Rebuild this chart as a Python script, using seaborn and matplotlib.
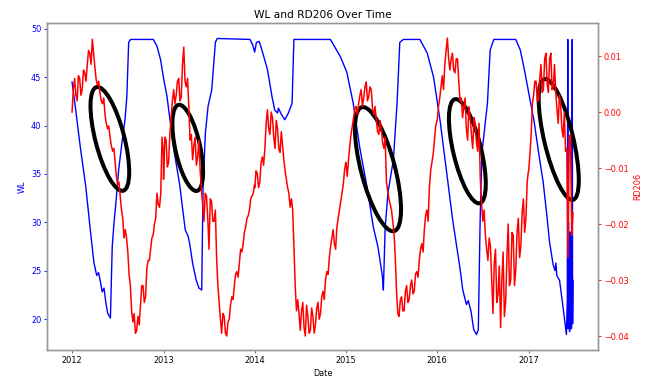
import numpy as np
import pandas as pd
import matplotlib
matplotlib.use('Agg')
import matplotlib.pyplot as plt
import matplotlib.dates as mdates
from matplotlib.patches import Ellipse
from matplotlib.transforms import ScaledTranslation
import seaborn as sns

# Water level at irregular times (decimal years)
wl_years = [
    2012.00, 2012.04, 2012.09, 2012.15, 2012.20, 2012.24, 2012.27, 2012.29, 2012.31, 2012.33,
    2012.35, 2012.37, 2012.39, 2012.42, 2012.44, 2012.46, 2012.48, 2012.51, 2012.55, 2012.58,
    2012.60, 2012.62, 2012.64, 2012.89, 2012.93, 2012.97,
    2013.00, 2013.04, 2013.08, 2013.11, 2013.15, 2013.18, 2013.21, 2013.24, 2013.27, 2013.29,
    2013.32, 2013.36, 2013.39, 2013.42, 2013.435, 2013.46, 2013.49, 2013.53, 2013.57, 2013.59,
    2013.95, 2013.98,
    2014.00, 2014.02, 2014.05, 2014.08, 2014.14, 2014.19, 2014.22, 2014.25, 2014.26, 2014.29,
    2014.33, 2014.37, 2014.41, 2014.43, 2014.83, 2014.94,
    2015.01, 2015.08, 2015.15, 2015.23, 2015.30, 2015.35, 2015.40, 2015.41, 2015.43, 2015.46,
    2015.52, 2015.56, 2015.59, 2015.63, 2015.81, 2015.89, 2015.96,
    2016.03, 2016.10, 2016.17, 2016.25, 2016.28, 2016.32, 2016.34, 2016.37, 2016.40, 2016.43,
    2016.45, 2016.47, 2016.49, 2016.55, 2016.58, 2016.62, 2016.86, 2016.91, 2016.95,
    2017.00, 2017.06, 2017.12, 2017.16, 2017.20, 2017.23, 2017.27, 2017.29, 2017.30, 2017.31,
    2017.34, 2017.38, 2017.415, 2017.425, 2017.430, 2017.434, 2017.438, 2017.442, 2017.446,
    2017.450, 2017.455, 2017.460, 2017.465, 2017.470, 2017.475, 2017.479, 2017.483, 2017.487,
]
wl_values = [
    44.5, 41.6, 37.8, 33.7, 29.2, 25.8, 24.5, 24.8, 23.9, 22.8,
    23.2, 21.7, 20.6, 20.1, 27.5, 30.0, 32.0, 35.4, 38.5, 40.6,
    43.0, 48.6, 48.9, 48.9, 48.2, 46.8,
    45.0, 43.0, 40.0, 37.8, 35.5, 33.8, 31.5, 29.2, 28.6, 27.7,
    25.8, 24.0, 23.2, 23.0, 33.7, 39.2, 42.0, 43.7, 48.6, 49.0,
    48.9, 48.3,
    47.6, 48.6, 48.7, 47.8, 45.8, 43.0, 41.6, 41.3, 41.8, 41.2,
    40.6, 41.3, 42.3, 48.9, 48.9, 47.1,
    45.5, 42.3, 37.8, 33.7, 29.5, 27.5, 24.4, 23.0, 29.5, 33.0,
    36.5, 42.3, 48.6, 48.9, 48.9, 47.5, 45.0,
    40.6, 35.4, 30.2, 25.2, 23.0, 21.5, 21.9, 20.8, 18.9, 18.4,
    18.9, 30.2, 37.2, 42.3, 47.8, 48.9, 48.9, 47.8, 46.0,
    43.5, 40.5, 36.6, 34.2, 30.8, 28.0, 25.6, 25.0, 25.8, 24.5,
    24.0, 21.1, 18.4, 22.0, 48.9, 19.0, 30.0, 19.5, 27.0,
    18.7, 29.0, 20.0, 26.0, 19.0, 30.0, 48.9, 19.5, 24.0,
]

# RD206, about every 10 days, one list per year
rd_2012 = [0.000, 0.006, 0.002, 0.006, 0.004, 0.007, 0.0085, 0.0105, 0.013, 0.008,
           0.0048, 0.0035, 0.0015, -0.0005, -0.003, -0.0045, -0.007, -0.009, -0.013, -0.015,
           -0.019, -0.021, -0.025, -0.031, -0.0375, -0.0395, -0.0365, -0.0345, -0.031, -0.033,
           -0.0265, -0.0245, -0.022, -0.019, -0.0165, -0.0145, -0.0075]
rd_2013 = [-0.012, -0.005, -0.009, -0.001, 0.004, 0.003, 0.006, 0.0027, 0.0116, 0.0045,
           0.001, -0.004, -0.006, -0.0095, -0.005, -0.014, -0.0195, -0.015, -0.0245, -0.016,
           -0.0195, -0.026, -0.034, -0.0395, -0.0365, -0.040, -0.037, -0.033, -0.031, -0.0285,
           -0.027, -0.025, -0.0215, -0.019, -0.0175, -0.015, -0.013]
rd_2014 = [-0.0135, -0.011, -0.0125, -0.008, -0.0065, 0.0004, -0.004, -0.001, -0.0065, -0.003,
           -0.0072, -0.006, -0.0105, -0.0135, -0.017, -0.0175, -0.031, -0.0335, -0.039, -0.034,
           -0.040, -0.0365, -0.039, -0.0365, -0.038, -0.034, -0.036, -0.032, -0.030, -0.029,
           -0.024, -0.021, -0.0245, -0.019, -0.016, -0.013, -0.009]
rd_2015 = [-0.009, -0.0085, -0.004, -0.001, 0.001, 0.0015, 0.004, 0.0025, 0.0054, 0.0028,
           0.004, -0.0005, -0.0015, -0.004, -0.003, -0.0065, -0.0125, -0.0155, -0.0175, -0.0215,
           -0.032, -0.0365, -0.033, -0.0355, -0.031, -0.0335, -0.030, -0.032, -0.0285, -0.0265,
           -0.0235, -0.021, -0.0175, -0.0135, -0.009, -0.005, -0.0015]
rd_2016 = [-0.0015, 0.0025, 0.0065, 0.0085, 0.0132, 0.0075, 0.0105, 0.007, 0.0095, 0.002,
           -0.001, 0.0025, -0.005, -0.001, -0.0065, -0.002, -0.007, -0.012, -0.0195, -0.022,
           -0.0265, -0.024, -0.036, -0.0245, -0.0325, -0.0385, -0.025, -0.034, -0.020, -0.030,
           -0.022, -0.028, -0.019, -0.024, -0.0155, -0.019, -0.0105]
rd_2017 = [-0.0105, -0.004, 0.003, 0.0055, 0.002, 0.0085, 0.004, 0.0105, 0.0035, 0.0105,
           0.0045, 0.0035, -0.002, 0.0015, -0.0045, -0.007, -0.026, -0.004, -0.018]

# RD206 halfway between the points above (the other side of the noisy band)
rd_2012_mid = [0.004, 0.003, 0.0065, 0.003, 0.0075, 0.0055, 0.011, 0.0085, 0.0105, 0.0058,
               0.0055, 0.002, 0.0025, -0.002, -0.0025, -0.006, -0.0065, -0.0115, -0.0125, -0.0175,
               -0.0225, -0.0225, -0.029, -0.0355, -0.036, -0.039, -0.038, -0.031, -0.034, -0.028,
               -0.0265, -0.0225, -0.020, -0.0145, -0.017, -0.0045]
rd_2013_mid = [-0.0045, -0.0098, -0.004, 0.002, 0.0015, 0.0055, 0.002, 0.0085, 0.0055, 0.006,
               -0.005, -0.0085, -0.0045, -0.008, -0.0105, -0.0165, -0.0145, -0.019, -0.0155, -0.0195,
               -0.0175, -0.031, -0.037, -0.036, -0.0395, -0.0375, -0.0345, -0.0335, -0.029, -0.0295,
               -0.0245, -0.0235, -0.0205, -0.0185, -0.0155, -0.0145]
rd_2014_mid = [-0.0105, -0.0135, -0.009, -0.0095, -0.002, -0.003, 0.000, -0.0045, -0.0015, -0.0065,
               -0.0035, -0.0085, -0.012, -0.0145, -0.0155, -0.024, -0.0355, -0.036, -0.0355, -0.0385,
               -0.0345, -0.0395, -0.035, -0.0395, -0.035, -0.037, -0.033, -0.0335, -0.0285, -0.026,
               -0.0225, -0.0235, -0.0205, -0.0175, -0.0145, -0.0105]
rd_2015_mid = [-0.0115, -0.006, -0.0025, 0.0005, -0.0005, 0.003, 0.001, 0.0045, 0.002, 0.0045,
               0.0005, 0.001, -0.0035, -0.0015, -0.0055, -0.0045, -0.014, -0.0165, -0.0195, -0.026,
               -0.036, -0.0335, -0.0355, -0.032, -0.034, -0.031, -0.0325, -0.029, -0.0295, -0.0245,
               -0.025, -0.0185, -0.0195, -0.0105, -0.0075, -0.0025]
rd_2016_mid = [0.001, 0.0045, 0.004, 0.011, 0.0095, 0.0095, 0.0075, 0.0095, 0.0055, 0.0025,
               0.001, -0.003, 0.001, -0.004, -0.001, -0.0055, -0.002, -0.0165, -0.0175, -0.0245,
               -0.0225, -0.030, -0.027, -0.034, -0.0275, -0.030, -0.0365, -0.026, -0.031, -0.0215,
               -0.031, -0.0215, -0.026, -0.018, -0.0215, -0.0125]
rd_2017_mid = [-0.0075, 0.0015, 0.0055, 0.002, 0.006, 0.0035, 0.0095, 0.005, 0.0095, 0.004,
               0.0085, 0.0005, 0.003, -0.003, 0.000, -0.0065, -0.0045, -0.022]

rd_spans = [('2012-01-01', '2012-12-31', rd_2012, rd_2012_mid),
            ('2013-01-01', '2013-12-31', rd_2013, rd_2013_mid),
            ('2014-01-01', '2014-12-31', rd_2014, rd_2014_mid),
            ('2015-01-01', '2015-12-31', rd_2015, rd_2015_mid),
            ('2016-01-01', '2016-12-31', rd_2016, rd_2016_mid),
            ('2017-01-01', '2017-06-27', rd_2017, rd_2017_mid)]

# hand-drawn ellipses: centre (decimal year, RD206), size in pixels, tilt in degrees
ell_years = [2012.414, 2013.267, 2015.351, 2016.330, 2017.331]
ell_rd = [-0.0048, -0.0064, -0.0102, -0.0070, -0.0049]
ell_w = [29, 25, 34, 28, 29]
ell_h = [107, 88, 128, 107, 124]
ell_angle = [14.4, 12.2, 14.6, 13.4, 13.3]


def to_date(years):
    years = np.asarray(years, dtype=float)
    return pd.Timestamp('2012-01-01') + pd.to_timedelta((years - 2012) * 365.25, unit='D')


wl = pd.DataFrame({'Date': to_date(wl_years), 'WL': wl_values})

parts = []
for start, end, vals, mids in rd_spans:
    d = pd.date_range(start, end, periods=len(vals))
    dm = d[:-1] + (d[1:] - d[:-1]) / 2
    parts.append(pd.DataFrame({'Date': d, 'RD206': vals}))
    parts.append(pd.DataFrame({'Date': dm, 'RD206': mids}))
rd = pd.concat(parts, ignore_index=True).sort_values('Date')

plt.rcParams.update({
    'font.family': ['DejaVu Sans'],
    'font.size': 5.85,
    'axes.linewidth': 1.0,
    'axes.edgecolor': '#999999',
    'axes.labelpad': 3.0,
    'xtick.major.size': 2.2, 'ytick.major.size': 2.2,
    'xtick.major.width': 0.6, 'ytick.major.width': 0.6,
    'xtick.major.pad': 2.0, 'ytick.major.pad': 2.0,
    'xtick.color': '#555555', 'xtick.labelcolor': 'black',
})

fig, ax1 = plt.subplots(figsize=(6.54, 3.77), dpi=100)
fig.subplots_adjust(left=0.0719, right=0.9144, bottom=0.0716, top=0.939)

sns.lineplot(data=wl, x='Date', y='WL', ax=ax1, color='blue', lw=1.0, estimator=None)
ax2 = ax1.twinx()
sns.lineplot(data=rd, x='Date', y='RD206', ax=ax2, color='red', lw=1.1, estimator=None)

ax1.set_ylim(16.8, 50.6)
ax2.set_ylim(-0.0425, 0.0159)
ax1.xaxis.set_major_locator(mdates.YearLocator())
ax1.xaxis.set_major_formatter(mdates.DateFormatter('%Y'))

ax1.set_xlabel('Date')
ax1.set_ylabel('WL', color='blue')
ax2.set_ylabel('RD206', color='red')
ax1.tick_params(axis='y', colors='blue')
ax2.tick_params(axis='y', colors='red')
ax1.set_title('WL and RD206 Over Time', fontsize=7.7, pad=3.5)

for yr, c, w, h, ang in zip(ell_years, ell_rd, ell_w, ell_h, ell_angle):
    x = mdates.date2num(to_date([yr])[0])
    tr = fig.dpi_scale_trans + ScaledTranslation(x, c, ax2.transData)
    ax2.add_artist(Ellipse((0, 0), w / 100, h / 100, angle=ang, fill=False,
                           lw=2.9, ec='black', transform=tr))

fig.savefig('out.png', dpi=100)
